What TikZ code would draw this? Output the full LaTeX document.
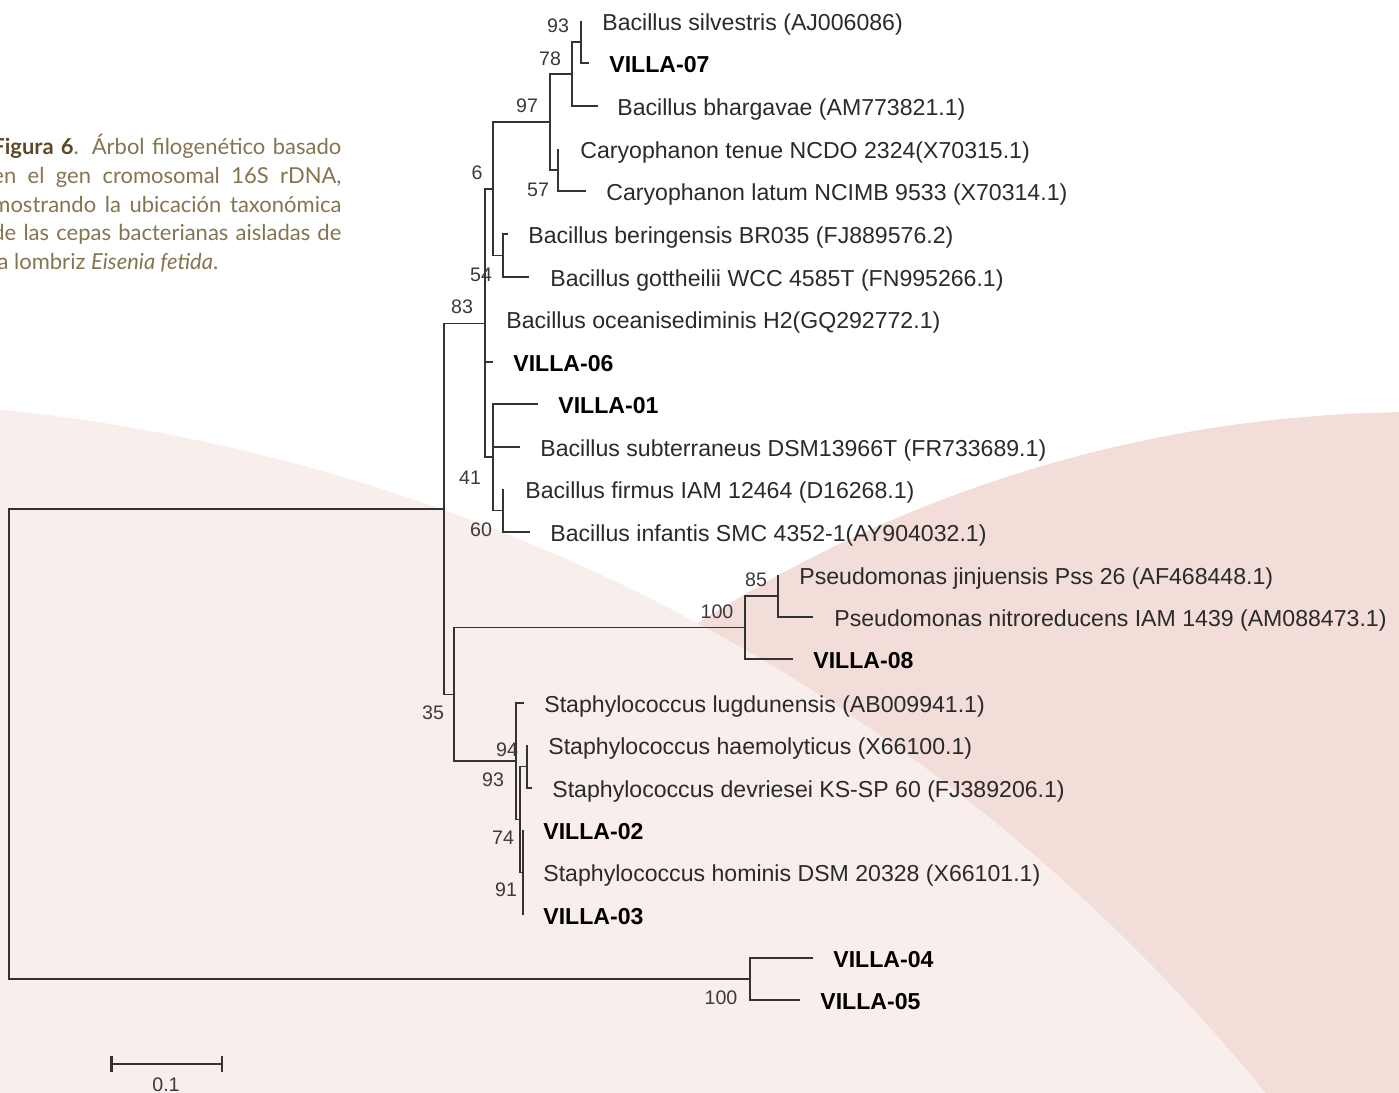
\documentclass[tikz,border=0pt]{standalone}
\usepackage{fontspec}
\setmainfont{Liberation Sans}
\newfontfamily\capfont{Lato}
\usetikzlibrary{arrows.meta}
\definecolor{bglight}{HTML}{F8EEEC}
\definecolor{bgdark}{HTML}{F2DDD8}
\definecolor{treeline}{HTML}{333333}
\definecolor{leafgray}{HTML}{2A2A2A}
\definecolor{bootgray}{HTML}{3A3A3A}
\definecolor{captext}{HTML}{857450}
\definecolor{capbold}{HTML}{5C4A26}
\begin{document}
\begin{tikzpicture}[x=0.5pt,y=-0.5pt,
  branch/.style={draw=treeline, line width=0.85pt},
  leaf/.style={anchor=base west, inner sep=0pt, text=leafgray, font=\fontsize{11.55}{13}\selectfont},
  strain/.style={anchor=base west, inner sep=0pt, text=black, font=\bfseries\fontsize{11.55}{13}\selectfont},
  boot/.style={inner sep=0pt, text=bootgray, font=\fontsize{9.8}{11}\selectfont},
  capline/.style={anchor=base west, inner sep=0pt, text=captext, font=\capfont\fontsize{11}{13}\selectfont},
  scalebar/.style={draw=treeline, line width=1.25pt, {Bar[width=8pt]}-{Bar[width=8pt]}}]
\useasboundingbox (0,0) rectangle (1399,1093);
\begin{scope}
\clip (0,0) rectangle (1399,1093);
% background shapes
\fill[bgdark] (1420,1752) circle[radius=1340];
\fill[bglight] (-191,2277) circle[radius=1877];

% caption
\node[capline] (c1) at (-8,154) {\makebox[174.5pt][s]{\textcolor{capbold}{\bfseries Figura 6}. Árbol filogenético basado}};
\node[capline] (c2) at (-8,183) {\makebox[174.5pt][s]{en el gen cromosomal 16S rDNA,}};
\node[capline] (c3) at (-8,212) {\makebox[174.5pt][s]{mostrando la ubicación taxonómica}};
\node[capline] (c4) at (-8,240) {\makebox[174.5pt][s]{de las cepas bacterianas aisladas de}};
\node[capline] (c5) at (-8,269) {la lombriz \textit{Eisenia fetida}.};

% leaf tips
\coordinate (t1) at (581,21);
\coordinate (t2) at (589,63);
\coordinate (t3) at (598,106);
\coordinate (t4) at (558,149);
\coordinate (t5) at (586,191);
\coordinate (t6) at (508,234);
\coordinate (t7) at (529,277);
\coordinate (t8) at (485,319);
\coordinate (t9) at (493,362);
\coordinate (t10) at (538,404);
\coordinate (t11) at (520,447);
\coordinate (t12) at (503,489);
\coordinate (t13) at (530,532);
\coordinate (t14) at (778,575);
\coordinate (t15) at (813,617);
\coordinate (t16) at (793,659);
\coordinate (t17) at (524,703);
\coordinate (t18) at (527,745);
\coordinate (t19) at (532,788);
\coordinate (t20) at (523,830);
\coordinate (t21) at (523,872);
\coordinate (t22) at (523,915);
\coordinate (t23) at (813,958);
\coordinate (t24) at (800,1000);
% internal nodes
\coordinate (n93) at (581,42);
\coordinate (n78) at (572,74);
\coordinate (n57) at (558,170);
\coordinate (n97) at (550,122);
\coordinate (n54) at (503,255.5);
\coordinate (n6) at (493,189);
\coordinate (n60) at (503,510.5);
\coordinate (n41) at (493,457);
\coordinate (n83) at (485,323.5);
\coordinate (n85) at (778,596);
\coordinate (n100a) at (745,627.5);
\coordinate (n94) at (527,766.5);
\coordinate (nx) at (523,872.5);
\coordinate (n93b) at (520,819.5);
\coordinate (n516) at (516,761);
\coordinate (n35) at (454,694.5);
\coordinate (nin) at (444,509);
\coordinate (n100b) at (750,979);
\coordinate (root) at (9,744);

% branches
\draw[branch] (n93) |- (t1);
\draw[branch] (n93) |- (t2);
\draw[branch] (n78) |- (n93);
\draw[branch] (n78) |- (t3);
\draw[branch] (n57) |- (t4);
\draw[branch] (n57) |- (t5);
\draw[branch] (n97) |- (n78);
\draw[branch] (n97) |- (n57);
\draw[branch] (n54) |- (t6);
\draw[branch] (n54) |- (t7);
\draw[branch] (n6) |- (n97);
\draw[branch] (n6) |- (n54);
\draw[branch] (n60) |- (t12);
\draw[branch] (n60) |- (t13);
\draw[branch] (n41) |- (t10);
\draw[branch] (n41) |- (t11);
\draw[branch] (n41) |- (n60);
\draw[branch] (n83) |- (n6);
\draw[branch] (n83) |- (t8);
\draw[branch] (n83) |- (t9);
\draw[branch] (n83) |- (n41);
\draw[branch] (n85) |- (t14);
\draw[branch] (n85) |- (t15);
\draw[branch] (n100a) |- (n85);
\draw[branch] (n100a) |- (t16);
\draw[branch] (n94) |- (t18);
\draw[branch] (n94) |- (t19);
\draw[branch] (nx) |- (t20);
\draw[branch] (nx) |- (t21);
\draw[branch] (nx) |- (t22);
\draw[branch] (n93b) |- (n94);
\draw[branch] (n93b) |- (nx);
\draw[branch] (n516) |- (t17);
\draw[branch] (n516) |- (n93b);
\draw[branch] (n35) |- (n100a);
\draw[branch] (n35) |- (n516);
\draw[branch] (nin) |- (n83);
\draw[branch] (nin) |- (n35);
\draw[branch] (n100b) |- (t23);
\draw[branch] (n100b) |- (t24);
\draw[branch] (root) |- (nin);
\draw[branch] (root) |- (n100b);

% leaf labels
\node[leaf] (l1) at (602,30) {Bacillus silvestris (AJ006086)};
\node[strain] (l2) at (609,72) {VILLA-07};
\node[leaf] (l3) at (617,115) {Bacillus bhargavae (AM773821.1)};
\node[leaf] (l4) at (580,158) {Caryophanon tenue NCDO 2324(X70315.1)};
\node[leaf] (l5) at (606,200) {Caryophanon latum NCIMB 9533 (X70314.1)};
\node[leaf] (l6) at (528,243) {Bacillus beringensis BR035 (FJ889576.2)};
\node[leaf] (l7) at (550,286) {Bacillus gottheilii WCC 4585T (FN995266.1)};
\node[leaf] (l8) at (506,328) {Bacillus oceanisediminis H2(GQ292772.1)};
\node[strain] (l9) at (513,371) {VILLA-06};
\node[strain] (l10) at (558,413) {VILLA-01};
\node[leaf] (l11) at (540,456) {Bacillus subterraneus DSM13966T (FR733689.1)};
\node[leaf] (l12) at (525,498) {Bacillus firmus IAM 12464 (D16268.1)};
\node[leaf] (l13) at (550,541) {Bacillus infantis SMC 4352-1(AY904032.1)};
\node[leaf] (l14) at (799,584) {Pseudomonas jinjuensis Pss 26 (AF468448.1)};
\node[leaf] (l15) at (834,626) {Pseudomonas nitroreducens IAM 1439 (AM088473.1)};
\node[strain] (l16) at (813,668) {VILLA-08};
\node[leaf] (l17) at (544,712) {Staphylococcus lugdunensis (AB009941.1)};
\node[leaf] (l18) at (548,754) {Staphylococcus haemolyticus (X66100.1)};
\node[leaf] (l19) at (552,797) {Staphylococcus devriesei KS-SP 60 (FJ389206.1)};
\node[strain] (l20) at (543,839) {VILLA-02};
\node[leaf] (l21) at (543,881) {Staphylococcus hominis DSM 20328 (X66101.1)};
\node[strain] (l22) at (543,924) {VILLA-03};
\node[strain] (l23) at (833,967) {VILLA-04};
\node[strain] (l24) at (820,1009) {VILLA-05};

% bootstrap values
\node[boot] (b93) at (558,26) {93};
\node[boot] (b78) at (550,59) {78};
\node[boot] (b97) at (527,106) {97};
\node[boot] (b6) at (477,173) {6};
\node[boot] (b57) at (538,190) {57};
\node[boot] (b54) at (481,275) {54};
\node[boot] (b83) at (462,307) {83};
\node[boot] (b41) at (470,478) {41};
\node[boot] (b60) at (481,530) {60};
\node[boot] (b85) at (756,580) {85};
\node[boot] (b100a) at (717,612) {100};
\node[boot] (b35) at (433,713) {35};
\node[boot] (b94) at (507,750) {94};
\node[boot] (b93b) at (493,780) {93};
\node[boot] (b74) at (503,838) {74};
\node[boot] (b91) at (506,890) {91};
\node[boot] (b100b) at (721,998) {100};

% scale bar
\coordinate (sbl) at (110,1064);
\coordinate (sbr) at (223,1064);
\draw[scalebar] (sbl) -- (sbr);
\node[boot] (sbt) at (166,1085) {0.1};
\end{scope}
\end{tikzpicture}
\end{document}
